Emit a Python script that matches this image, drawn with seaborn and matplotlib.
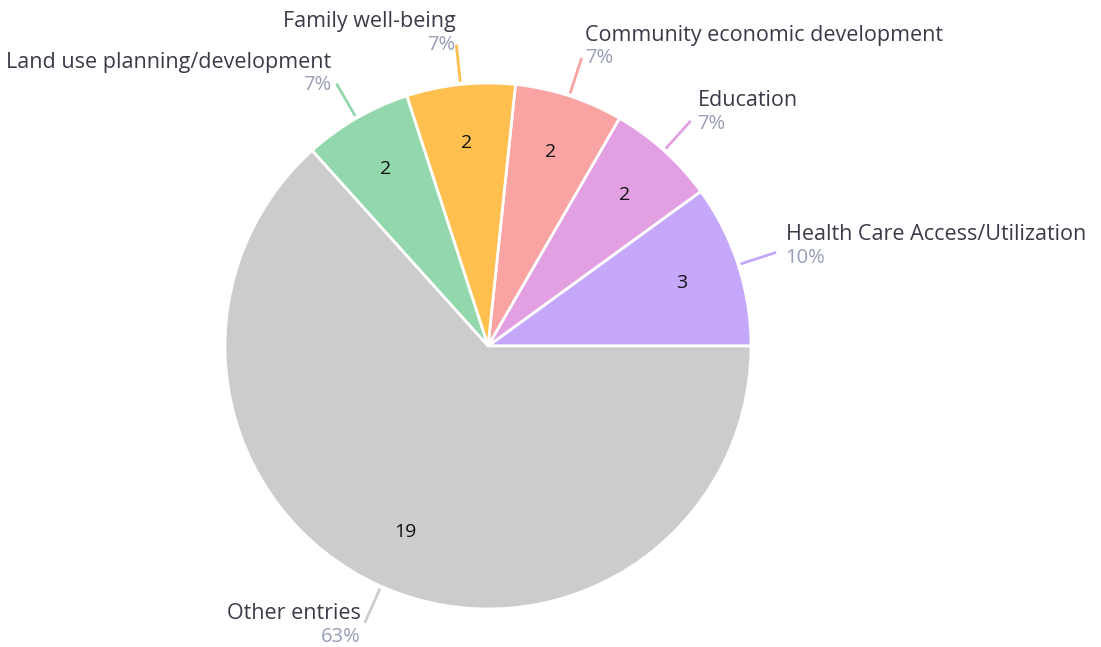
import numpy as np
import matplotlib
matplotlib.use("Agg")
import matplotlib.pyplot as plt
import seaborn as sns

# Topic counts, counter-clockwise from 3 o'clock
categories = [
    "Health Care Access/Utilization",
    "Education",
    "Community economic development",
    "Family well-being",
    "Land use planning/development",
    "Other entries",
]
counts = [3, 2, 2, 2, 2, 19]
percent_labels = ["10%", "7%", "7%", "7%", "7%", "63%"]
colors = ["#c5a7fc", "#e2a0e2", "#f9a3a3", "#ffc04f", "#93d8ad", "#cccccc"]

sns.set_theme(style="white")
plt.rcParams["font.family"] = ["Open Sans", "DejaVu Sans"]

W, H = 1101, 647
fig = plt.figure(figsize=(W / 100, H / 100), dpi=100)
ax = fig.add_axes([0, 0, 1, 1])

cx, cy, R = 488, H - 346, 263

wedges, _ = ax.pie(
    counts,
    colors=colors,
    startangle=0,
    counterclock=True,
    center=(cx, cy),
    radius=R,
    wedgeprops=dict(edgecolor="white", linewidth=2),
    frame=True,
)
ax.set_xlim(0, W)
ax.set_ylim(0, H)
ax.set_aspect("equal")
ax.axis("off")

name_color = "#3b3b48"
pct_color = "#989eb6"

for w, cat, n, pct, col in zip(wedges, categories, counts, percent_labels, colors):
    mid = np.deg2rad((w.theta1 + w.theta2) / 2)
    c, s = np.cos(mid), np.sin(mid)
    # value inside the slice
    ax.text(cx + 0.775 * R * c, cy + 0.775 * R * s, str(n),
            ha="center", va="center", fontsize=14, color="#111111")
    # connector line
    x0, y0 = cx + 1.01 * R * c, cy + 1.01 * R * s
    x1, y1 = cx + 1.152 * R * c, cy + 1.152 * R * s
    ax.plot([x0, x1], [y0, y1], color=col, lw=2, solid_capstyle="butt")
    # category name and share
    ha = "left" if c >= 0 else "right"
    tx = cx + 1.19 * R * c
    if s >= 0:
        py = y1 - (6 * c * c)
    else:
        py = y1 - 14
    ax.text(tx, py, pct, ha=ha, va="center", fontsize=14.5, color=pct_color)
    ax.text(tx, py + 23, cat, ha=ha, va="center", fontsize=15.5, color=name_color)

fig.savefig("out.png", dpi=100, facecolor="white")
